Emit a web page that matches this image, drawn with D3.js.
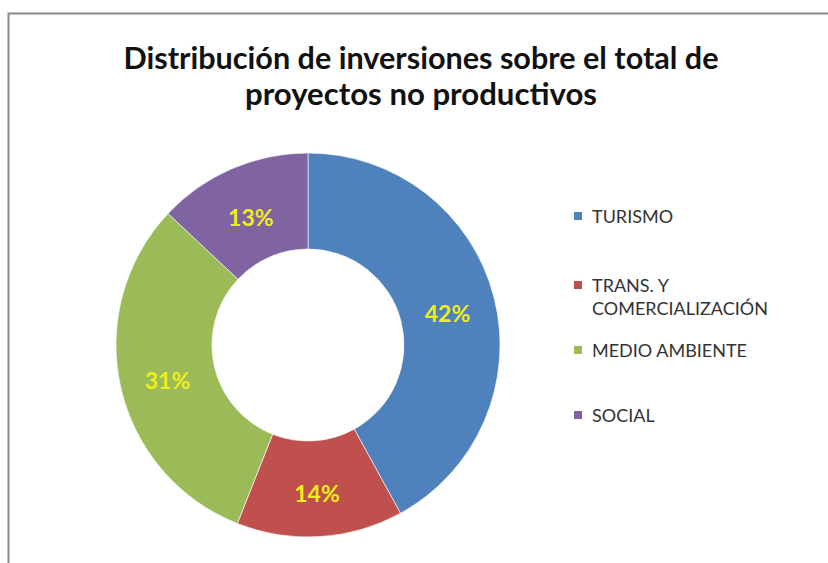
<!DOCTYPE html>
<html>
<head>
<meta charset="utf-8">
<script src="https://cdn.jsdelivr.net/npm/d3@7"></script>
<style>
  html, body { margin: 0; padding: 0; background: #fff; }
  svg { display: block; }
</style>
</head>
<body>
<svg id="chart" width="828" height="563"></svg>
<script>
// datos
const categories = ["TURISMO", "TRANS. Y COMERCIALIZACIÓN", "MEDIO AMBIENTE", "SOCIAL"];
const legendLines = [["TURISMO"], ["TRANS. Y", "COMERCIALIZACIÓN"], ["MEDIO AMBIENTE"], ["SOCIAL"]];
const values = [42, 14, 31, 13];
const colors = ["#4f81bd", "#c0504d", "#9bbb59", "#8064a2"];
const titleLines = ["Distribución de inversiones sobre el total de", "proyectos no productivos"];

const svg = d3.select("#chart");
const W = 828, H = 563;

// marco del gráfico (se corta por la derecha y abajo)
svg.append("rect")
  .attr("x", 8.5)
  .attr("y", 13.5)
  .attr("width", W + 20)
  .attr("height", H + 20)
  .attr("fill", "#fff")
  .attr("stroke", "#8a8a8a")
  .attr("stroke-width", 2);

// título
const titleWidths = [595, 352];
const titleY = [69, 105];
svg.append("g")
  .selectAll("text")
  .data(titleLines)
  .enter()
  .append("text")
  .attr("x", 421)
  .attr("y", (d, i) => titleY[i])
  .attr("text-anchor", "middle")
  .attr("font-family", "Lato, 'Open Sans', sans-serif")
  .attr("font-weight", "bold")
  .attr("font-size", 30)
  .attr("fill", "#111")
  .attr("textLength", (d, i) => titleWidths[i])
  .attr("lengthAdjust", "spacingAndGlyphs")
  .text(d => d);

// anillo
const cx = 308, cy = 345;
const outerR = 192, innerR = 96;

const pie = d3.pie().sort(null).value(d => d);
const arc = d3.arc().innerRadius(innerR).outerRadius(outerR);
const labelArc = d3.arc().innerRadius((innerR + outerR) / 2).outerRadius((innerR + outerR) / 2);

const total = d3.sum(values);
const donut = svg.append("g").attr("transform", `translate(${cx},${cy})`);

const slices = donut.selectAll("g.slice")
  .data(pie(values))
  .enter()
  .append("g")
  .attr("class", "slice");

slices.append("path")
  .attr("d", arc)
  .attr("fill", (d, i) => colors[i])
  .attr("stroke", "#fff")
  .attr("stroke-width", 0.6);

slices.append("text")
  .attr("transform", d => `translate(${labelArc.centroid(d)})`)
  .attr("text-anchor", "middle")
  .attr("dominant-baseline", "central")
  .attr("dy", 4)
  .attr("font-family", "Lato, 'Open Sans', sans-serif")
  .attr("font-weight", "bold")
  .attr("font-size", 23)
  .attr("fill", "#eeee1a")
  .text(d => Math.round(d.data / total * 100) + "%");

// leyenda
const legendY = [216, 285, 350, 415];
const legend = svg.append("g")
  .selectAll("g")
  .data(categories)
  .enter()
  .append("g")
  .attr("transform", (d, i) => `translate(574,${legendY[i]})`);

legend.append("rect")
  .attr("x", 0)
  .attr("y", -4)
  .attr("width", 8)
  .attr("height", 8)
  .attr("fill", (d, i) => colors[i]);

legend.each(function (d, i) {
  const g = d3.select(this);
  legendLines[i].forEach((line, j) => {
    g.append("text")
      .attr("x", 18)
      .attr("y", j * 23)
      .attr("dominant-baseline", "central")
      .attr("font-family", "Lato, 'Open Sans', sans-serif")
      .attr("font-size", 18)
      .attr("fill", "#333")
      .text(line);
  });
});
</script>
</body>
</html>
